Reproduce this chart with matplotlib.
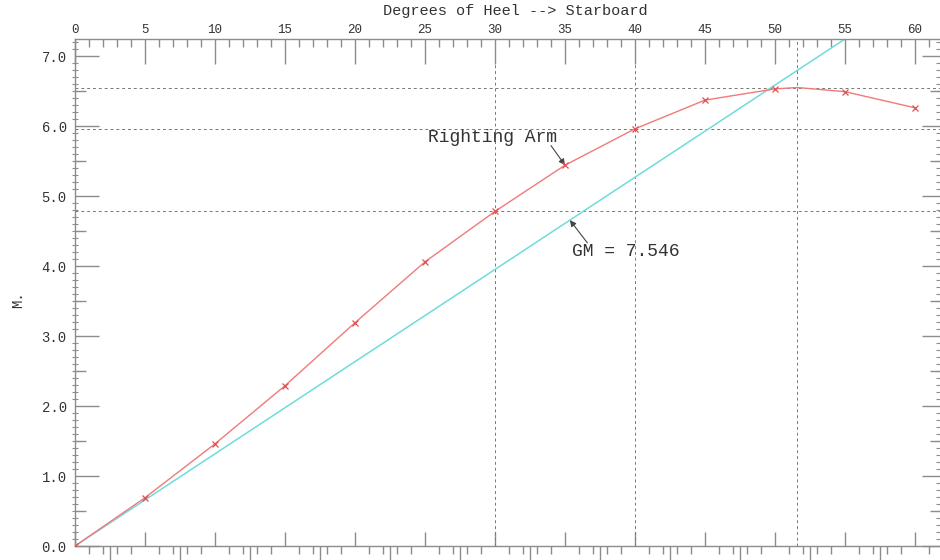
import matplotlib
matplotlib.use('Agg')
import matplotlib.pyplot as plt
from matplotlib.ticker import MultipleLocator

# heel angle (deg) and righting arm
heel = [0, 5, 10, 15, 20, 25, 30, 35, 40, 45, 50, 55, 60]
righting_arm = [0.0, 0.69, 1.46, 2.29, 3.19, 4.06, 4.78, 5.44, 5.96, 6.37, 6.53, 6.49, 6.26]
peak_heel = 51.6
peak_arm = 6.55

# GM line: rises to GM at one radian
gm = 7.546
gm_heel = [0, 57.3]
gm_arm = [0, gm]

# dashed reference lines
ref_heel = [30, 40, peak_heel]
ref_arm = [4.78, 5.96, peak_arm]

x_ticks = list(range(0, 61, 5))
y_ticks = [0, 1, 2, 3, 4, 5, 6, 7]
y_tick_labels = ['0.0', '1.0', '2.0', '3.0', '4.0', '5.0', '6.0', '7.0']

AXIS_COLOR = '#8c8c8c'
TEXT_COLOR = '#333333'
RED = '#f07a7a'
CYAN = '#6fdcdc'

plt.rcParams['font.family'] = ['Liberation Mono', 'DejaVu Sans Mono']

fig = plt.figure(figsize=(9.4, 5.6), dpi=100)
ax = fig.add_axes([75 / 940, 1 - 546 / 560, 865 / 940, 507 / 560])
ax.set_xlim(0, 865 / 14)
ax.set_ylim(0, 507 / 70)

# reference grid
for v in ref_heel:
    ax.axvline(v, color='#777777', linestyle=(0, (3, 3)), linewidth=0.7, zorder=1)
for h in ref_arm:
    ax.axhline(h, color='#777777', linestyle=(0, (3, 3)), linewidth=0.7, zorder=1)

# curves
line_x = heel[:11] + [peak_heel] + heel[11:]
line_y = righting_arm[:11] + [peak_arm] + righting_arm[11:]
ax.plot(gm_heel, gm_arm, color=CYAN, linewidth=1.1, zorder=2)
ax.plot(line_x, line_y, color=RED, linewidth=1.0, zorder=3)
ax.plot(heel, righting_arm, linestyle='none', marker='x', markersize=4.5,
        markeredgewidth=0.9, color='#e05050', zorder=4)

# annotations
arrow = dict(arrowstyle='-|>', color='#444444', linewidth=0.8, mutation_scale=9,
             shrinkA=0, shrinkB=0)
ax.annotate('', xy=(heel[7], righting_arm[7]), xytext=(34.0, 5.72), arrowprops=arrow)
ax.text(25.2, 5.83, 'Righting Arm', fontsize=13, color=TEXT_COLOR, va='center')
ax.annotate('', xy=(35.35, gm * 35.35 / 57.3), xytext=(36.6, 4.33), arrowprops=arrow)
ax.text(35.5, 4.2, 'GM = 7.546', fontsize=13, color=TEXT_COLOR, va='center')

# spines
for side in ['left', 'top', 'bottom']:
    ax.spines[side].set_color(AXIS_COLOR)
    ax.spines[side].set_linewidth(1.0)
ax.spines['right'].set_visible(False)

# top axis: labels + ticks
ax.xaxis.set_ticks_position('top')
ax.set_xticks(x_ticks)
ax.set_xticklabels([str(t) for t in x_ticks])
ax.xaxis.set_minor_locator(MultipleLocator(1))
ax.tick_params(axis='x', which='major', direction='in', length=18, width=1,
               color=AXIS_COLOR, labelsize=9, labelcolor=TEXT_COLOR, pad=2,
               top=True, bottom=False, labeltop=True, labelbottom=False)
ax.tick_params(axis='x', which='minor', direction='in', length=6, width=1,
               color=AXIS_COLOR, top=True, bottom=False)

# left axis
ax.set_yticks(y_ticks)
ax.set_yticklabels(y_tick_labels)
ax.yaxis.set_minor_locator(MultipleLocator(0.1))
ax.tick_params(axis='y', which='major', direction='in', length=17, width=1,
               color=AXIS_COLOR, labelsize=10, labelcolor=TEXT_COLOR, pad=6,
               left=True, right=False)
ax.tick_params(axis='y', which='minor', direction='inout', length=5, width=0.8,
               color=AXIS_COLOR, left=True, right=False)
sec_l = ax.secondary_yaxis('left')
sec_l.set_yticks([t + 0.5 for t in y_ticks[:-1]])
sec_l.set_yticklabels([])
sec_l.tick_params(direction='in', length=8, width=1, color=AXIS_COLOR)
sec_l.spines['left'].set_visible(False)

# right axis ticks
sec_r = ax.secondary_yaxis('right')
sec_r.set_yticks(y_ticks)
sec_r.set_yticklabels([])
sec_r.yaxis.set_minor_locator(MultipleLocator(0.1))
sec_r.tick_params(which='major', direction='in', length=13, width=1, color=AXIS_COLOR)
sec_r.tick_params(which='minor', direction='in', length=3, width=0.8, color=AXIS_COLOR)
sec_r.spines['right'].set_visible(False)
sec_r2 = ax.secondary_yaxis('right')
sec_r2.set_yticks([t + 0.5 for t in y_ticks])
sec_r2.set_yticklabels([])
sec_r2.tick_params(direction='in', length=7, width=1, color=AXIS_COLOR)
sec_r2.spines['right'].set_visible(False)

# bottom axis ticks
sec_b = ax.secondary_xaxis('bottom')
sec_b.set_xticks(x_ticks)
sec_b.set_xticklabels([])
sec_b.xaxis.set_minor_locator(MultipleLocator(1))
sec_b.tick_params(which='major', direction='in', length=10, width=1, color=AXIS_COLOR)
sec_b.tick_params(which='minor', direction='out', length=6, width=1, color=AXIS_COLOR)
sec_b.spines['bottom'].set_visible(False)
sec_b2 = ax.secondary_xaxis('bottom')
sec_b2.set_xticks([t + 2.5 for t in x_ticks])
sec_b2.set_xticklabels([])
sec_b2.tick_params(direction='out', length=10, width=1, color=AXIS_COLOR)
sec_b2.spines['bottom'].set_visible(False)

fig.text(515 / 940, 1 - 11 / 560, 'Degrees of Heel --> Starboard', fontsize=11,
         color=TEXT_COLOR, ha='center', va='center')
fig.text(18 / 940, 1 - 300 / 560, 'M.', fontsize=10, color=TEXT_COLOR,
         rotation=90, ha='center', va='center')

fig.savefig('out.png', dpi=100)
